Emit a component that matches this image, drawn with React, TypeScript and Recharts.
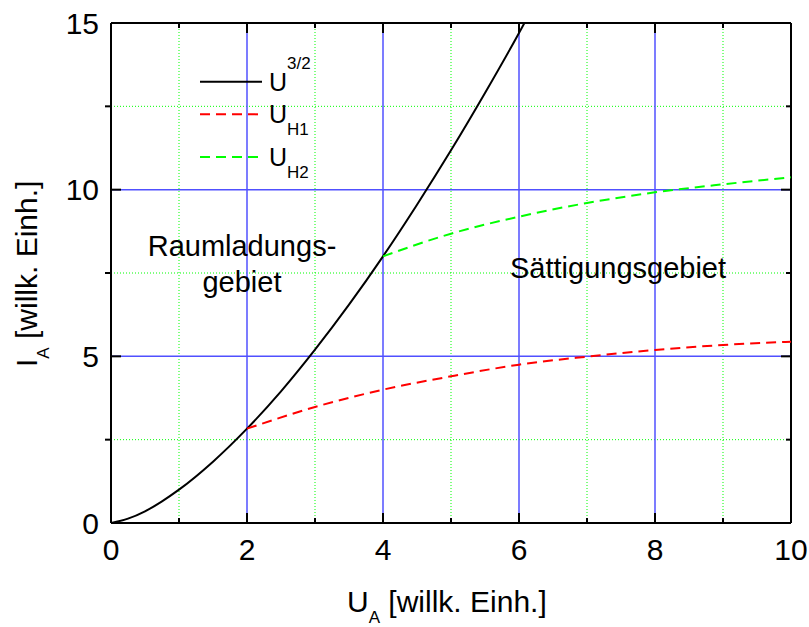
import React from 'react';
import { LineChart, Line, XAxis, YAxis, CartesianGrid, ReferenceLine, Legend } from 'recharts';

// ---- data ----
const blackU = [0, 0.25, 0.5, 0.75, 1, 1.5, 2, 2.5, 3, 3.5, 4, 4.5, 5, 5.5, 6, 6.08];
const blackI = [0, 0.13, 0.35, 0.65, 1.0, 1.84, 2.83, 3.95, 5.2, 6.55, 8.0, 9.55, 11.18, 12.9, 14.7, 15.0];

const redU = [2, 3, 4, 5, 6, 7, 8, 9, 10];
const redI = [2.83, 3.48, 4.0, 4.4, 4.75, 4.99, 5.19, 5.34, 5.44];

const greenU = [4, 5, 6, 7, 8, 9, 10];
const greenI = [8.0, 8.68, 9.19, 9.6, 9.92, 10.16, 10.37];

const xTicks = [0, 1, 2, 3, 4, 5, 6, 7, 8, 9, 10];
const yTicks = [0, 2.5, 5, 7.5, 10, 12.5, 15];
const xMajorGrid = [2, 4, 6, 8];
const xMinorGrid = [1, 3, 5, 7, 9];
const yMajorGrid = [5, 10];
const yMinorGrid = [2.5, 7.5, 12.5];

const seriesNames = ['U3/2', 'UH1', 'UH2'];
const legendBase = ['U', 'U', 'U'];
const legendSup = ['3/2', '', ''];
const legendSub = ['', 'H1', 'H2'];

const blackData = blackU.map((u, k) => ({ u, i: blackI[k] }));
const redData = redU.map((u, k) => ({ u, i: redI[k] }));
const greenData = greenU.map((u, k) => ({ u, i: greenI[k] }));

// ---- layout ----
const W = 809;
const H = 627;
const PLOT_LEFT = 111;
const PLOT_TOP = 23;
const PLOT_RIGHT = 791;
const PLOT_BOTTOM = 523;
const FONT = '"Liberation Sans", Arial, sans-serif';
const X_MARGIN = 15;
const Y_MARGIN = 12;

const XTick = (props: any) => {
  const { x, y, payload } = props;
  const v = payload.value;
  const major = v % 2 === 0;
  const len = major ? 10 : 5;
  const axisY = y - X_MARGIN;
  return (
    <g>
      <line x1={x} y1={axisY} x2={x} y2={axisY - len} stroke="#000" strokeWidth={2} />
      <line x1={x} y1={PLOT_TOP} x2={x} y2={PLOT_TOP + len} stroke="#000" strokeWidth={2} />
      {major && (
        <text x={x} y={y + 22} textAnchor="middle" fontSize={30} fontFamily={FONT} fill="#000">
          {v}
        </text>
      )}
    </g>
  );
};

const YTick = (props: any) => {
  const { x, y, payload } = props;
  const v = payload.value;
  const major = v % 5 === 0;
  const axisX = x + Y_MARGIN;
  return (
    <g>
      {major ? (
        <line x1={axisX} y1={y} x2={axisX + 10} y2={y} stroke="#000" strokeWidth={2} />
      ) : (
        <line x1={axisX} y1={y} x2={axisX - 6} y2={y} stroke="#000" strokeWidth={2} />
      )}
      <line x1={PLOT_RIGHT} y1={y} x2={PLOT_RIGHT - (major ? 10 : 5)} y2={y} stroke="#000" strokeWidth={2} />
      {major && (
        <text x={x} y={y + 10.5} textAnchor="end" fontSize={30} fontFamily={FONT} fill="#000">
          {v}
        </text>
      )}
    </g>
  );
};

const legendRows = [31.7, 64.3, 107];

const LegendContent = (props: any) => {
  const payload = props.payload || [];
  return (
    <svg width={140} height={135} style={{ display: 'block', overflow: 'visible' }}>
      {payload.map((entry: any, idx: number) => {
        const found = seriesNames.indexOf(entry.value);
        const k = found >= 0 ? found : idx;
        const rowY = legendRows[k];
        const dash = entry.payload && entry.payload.strokeDasharray;
        return (
          <g key={idx}>
            <line x1={5} y1={rowY} x2={67} y2={rowY} stroke={entry.color} strokeWidth={2} strokeDasharray={dash} />
            <text x={74} y={rowY + 9} fontSize={25} fontFamily={FONT} fill="#000">
              {legendBase[k]}
              {legendSup[k] ? (
                <tspan dy={-22} fontSize={17}>
                  {legendSup[k]}
                </tspan>
              ) : null}
              {legendSub[k] ? (
                <tspan dy={12} fontSize={17}>
                  {legendSub[k]}
                </tspan>
              ) : null}
            </text>
          </g>
        );
      })}
    </svg>
  );
};

export default function App() {
  return (
    <div style={{ position: 'absolute', left: 0, top: 0, width: W, height: H, background: '#fff' }}>
      <LineChart
        width={W}
        height={H}
        margin={{ top: PLOT_TOP, right: W - PLOT_RIGHT, left: 0, bottom: 0 }}
      >
        <CartesianGrid
          horizontalValues={yMinorGrid}
          verticalValues={xMinorGrid}
          stroke="#00ff00"
          strokeWidth={1}
          strokeDasharray="1 2"
        />
        <CartesianGrid
          horizontalValues={yMajorGrid}
          verticalValues={xMajorGrid}
          stroke="#5050ff"
          strokeWidth={1.5}
        />
        <XAxis
          type="number"
          dataKey="u"
          domain={[0, 10]}
          ticks={xTicks}
          interval={0}
          allowDataOverflow
          height={H - PLOT_BOTTOM}
          tickSize={0}
          tickMargin={X_MARGIN}
          tickLine={false}
          axisLine={{ stroke: '#000', strokeWidth: 2 }}
          tick={<XTick />}
        />
        <YAxis
          type="number"
          domain={[0, 15]}
          ticks={yTicks}
          interval={0}
          allowDataOverflow
          width={PLOT_LEFT}
          tickSize={0}
          tickMargin={Y_MARGIN}
          tickLine={false}
          axisLine={{ stroke: '#000', strokeWidth: 2 }}
          tick={<YTick />}
        />
        <ReferenceLine x={10} stroke="#000" strokeWidth={2} ifOverflow="visible" />
        <ReferenceLine y={15} stroke="#000" strokeWidth={2} ifOverflow="visible" />
        <Line
          data={blackData}
          dataKey="i"
          name={seriesNames[0]}
          type="monotone"
          stroke="#000000"
          strokeWidth={2}
          dot={false}
          isAnimationActive={false}
        />
        <Line
          data={redData}
          dataKey="i"
          name={seriesNames[1]}
          type="monotone"
          stroke="#ff0000"
          strokeWidth={2}
          strokeDasharray="10 6"
          dot={false}
          isAnimationActive={false}
        />
        <Line
          data={greenData}
          dataKey="i"
          name={seriesNames[2]}
          type="monotone"
          stroke="#00ff00"
          strokeWidth={2}
          strokeDasharray="10 6"
          dot={false}
          isAnimationActive={false}
        />
        <Legend
          layout="vertical"
          align="center"
          verticalAlign="middle"
          content={<LegendContent />}
          wrapperStyle={{ position: 'absolute', left: 195, top: 50, width: 140, height: 135 }}
        />
      </LineChart>
      <svg
        width={W}
        height={H}
        style={{ position: 'absolute', left: 0, top: 0, pointerEvents: 'none' }}
        fontFamily={FONT}
      >
        <text x={347} y={612} fontSize={30} fill="#000">
          U
          <tspan dy={11} fontSize={17}>A</tspan>
          <tspan dy={-11}> [willk. Einh.]</tspan>
        </text>
        <text transform="translate(37, 367) rotate(-90)" fontSize={30} fill="#000">
          I
          <tspan dy={12} fontSize={17}>A</tspan>
          <tspan dy={-12}> [willk. Einh.]</tspan>
        </text>
        <text x={242} y={256} fontSize={29} textAnchor="middle" fill="#000">Raumladungs-</text>
        <text x={242} y={292} fontSize={29} textAnchor="middle" fill="#000">gebiet</text>
        <text x={618} y={278} fontSize={29} textAnchor="middle" fill="#000">Sättigungsgebiet</text>
      </svg>
    </div>
  );
}
